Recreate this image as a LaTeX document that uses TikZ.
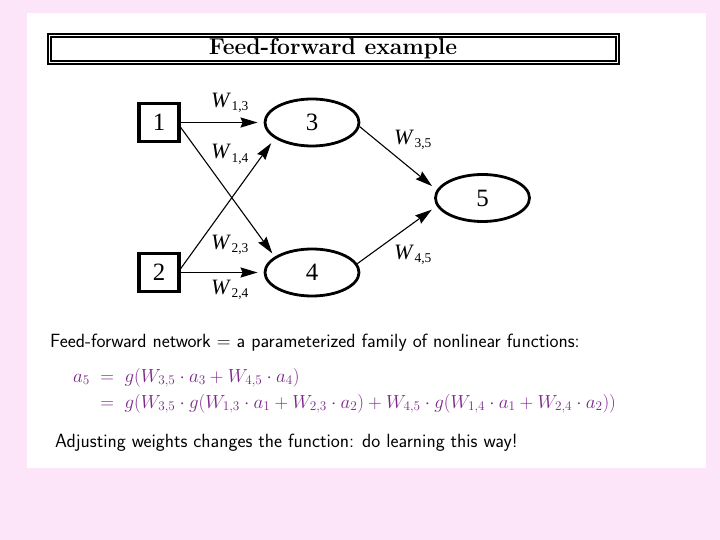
\RequirePackage{fix-cm}
\documentclass[tikz,border=0pt]{standalone}
\usepackage{fontspec}
\newfontfamily\tnr{Liberation Serif}
\usetikzlibrary{shapes.geometric,arrows.meta}
\definecolor{bgpink}{RGB}{252,228,249}
\definecolor{mathpurple}{RGB}{125,38,140}
\begin{document}
\begin{tikzpicture}[x=1bp,y=-1bp,
  inbox/.style={draw,line width=3.5bp,minimum width=40bp,minimum height=38bp,inner sep=0pt,font=\tnr\fontsize{25}{25}\selectfont},
  unit/.style={draw,ellipse,line width=2.8bp,minimum width=94bp,minimum height=47bp,inner sep=0pt,font=\tnr\fontsize{25}{25}\selectfont},
  wire/.style={line width=1.8bp,-{Stealth[length=17bp,width=10bp,inset=2bp]}},
  dwire/.style={line width=1.1bp,-{Stealth[length=17bp,width=10bp,inset=2bp]}},
  wlab/.style={anchor=base west,inner sep=0pt,font=\tnr\fontsize{22}{22}\selectfont},
  body/.style={anchor=base west,inner sep=0pt,font=\sffamily\fontsize{19.2}{22}\selectfont},
  eq/.style={anchor=base west,inner sep=0pt,text=mathpurple,font=\fontsize{19}{22}\selectfont}
]
\newcommand{\wl}[2]{\textit{W}\kern0.5bp\raisebox{#2}{\fontsize{13.5}{13.5}\selectfont #1}}
\useasboundingbox (0,0) rectangle (720,540);
\fill[bgpink] (0,0) rectangle (720,540);
\fill[white] (27,13) rectangle (706,468);
% title
\draw[line width=1.1bp] (48,34) rectangle (619,64);
\draw[line width=1.1bp] (51,37) rectangle (616,61);
\node[font=\bfseries\fontsize{23}{23}\selectfont] (title) at (333,49) {Feed-forward example};
% nodes
\node[inbox] (b1) at (159,122.5) {1};
\node[inbox] (b2) at (159,272.5) {2};
\node[unit] (e3) at (312,122.5) {3};
\node[unit] (e4) at (312,272.5) {4};
\node[unit] (e5) at (482.5,198) {5};
% connectors
\draw[wire,shorten >=6bp] (b1.east) -- (e3.west);
\draw[wire,shorten >=6bp] (b2.east) -- (e4.west);
\draw[dwire,shorten >=4bp] ([yshift=-5bp]b1.east) -- (e4.157);
\draw[dwire,shorten >=6bp] ([yshift=4bp]b2.east) -- (e3.203);
\draw[dwire,shorten >=6bp] (e3.-5) -- (e5.170);
\draw[dwire,shorten >=6bp] (e4.11) -- (e5.190);
% weight labels
\node[wlab] (w13) at (211,108) {\wl{1,3}{-3bp}};
\node[wlab] (w14) at (211,159) {\wl{1,4}{-4bp}};
\node[wlab] (w23) at (211,250) {\wl{2,3}{-3bp}};
\node[wlab] (w24) at (211,294) {\wl{2,4}{-3bp}};
\node[wlab] (w35) at (394,145) {\wl{3,5}{-3bp}};
\node[wlab] (w45) at (394,260) {\wl{4,5}{-3bp}};
% text
\node[body] (t1) at (50,347) {Feed-forward network $=$ a parameterized family of nonlinear functions:};
\node[eq] (m1) at (73,382) {$a_5\;=\;g(W_{3,5}\cdot a_3+W_{4,5}\cdot a_4)$};
\node[eq] (m2) at (73,408) {$\phantom{a_5}\;=\;g(W_{3,5}\cdot g(W_{1,3}\cdot a_1+W_{2,3}\cdot a_2)+W_{4,5}\cdot g(W_{1,4}\cdot a_1+W_{2,4}\cdot a_2))$};
\node[body] (t2) at (55,447) {Adjusting weights changes the function: do learning this way!};
\end{tikzpicture}
\end{document}
